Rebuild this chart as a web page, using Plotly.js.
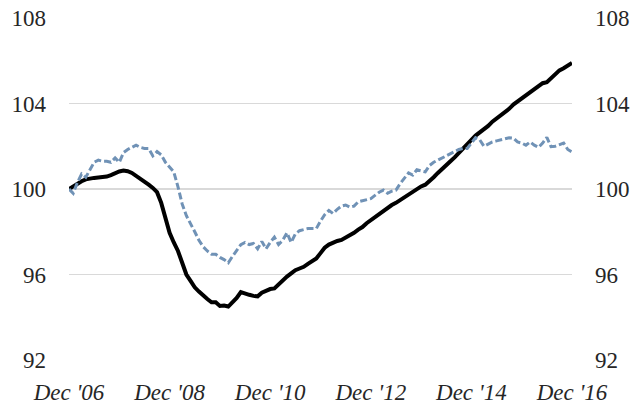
<!DOCTYPE html>
<html>
<head>
<meta charset="utf-8">
<script src="https://cdn.plot.ly/plotly-3.0.1.min.js"></script>
<style>html,body{margin:0;padding:0;background:#fff;}#chart{width:635px;height:406px;}</style>
</head>
<body>
<div id="chart"></div>
<script>
// months since Dec 2006 (0 = Dec '06, 120 = Dec '16)
const months = Array.from({length: 121}, (_, i) => i);

const tickVals = [0, 24, 48, 72, 96, 120];
const tickLabels = ["Dec '06", "Dec '08", "Dec '10", "Dec '12", "Dec '14", "Dec '16"];
const yTicks = [92, 96, 100, 104, 108];

const solidSeries = [
100.0,100.12,100.27,100.36,100.45,100.5,100.52,100.54,100.56,100.58,100.65,100.75,100.82,100.86,100.83,100.75,100.62,100.5,100.35,100.2,100.05,99.85,99.35,98.7,
97.95,97.5,97.1,96.55,96.0,95.7,95.4,95.2,95.0,94.85,94.7,94.7,94.53,94.55,94.5,94.7,94.9,95.18,95.1,95.05,95.0,94.98,95.15,95.25,
95.32,95.35,95.55,95.75,95.9,96.05,96.2,96.28,96.36,96.5,96.65,96.75,97.0,97.25,97.4,97.5,97.57,97.62,97.72,97.85,97.95,98.1,98.22,98.4,
98.55,98.65,98.82,99.0,99.12,99.25,99.35,99.48,99.6,99.75,99.9,100.03,100.12,100.2,100.35,100.55,100.75,100.95,101.1,101.3,101.48,101.7,101.9,102.1,
102.3,102.5,102.65,102.75,102.95,103.15,103.3,103.45,103.55,103.75,103.95,104.1,104.25,104.35,104.5,104.7,104.85,104.95,105.0,105.2,105.4,105.55,105.65,105.75,
105.9];

const dashedSeries = [
100.0,99.8,100.3,100.7,100.55,100.9,101.25,101.35,101.3,101.3,101.25,101.45,101.25,101.7,101.85,101.95,102.05,101.95,101.9,101.9,101.55,101.75,101.6,101.25,
101.05,100.8,100.1,99.3,98.75,98.4,98.0,97.6,97.3,97.1,96.95,96.95,96.8,96.7,96.55,96.85,97.15,97.4,97.5,97.4,97.45,97.2,97.55,97.2,
97.5,97.75,97.4,97.6,97.95,97.5,97.9,98.05,98.1,98.15,98.15,98.15,98.5,98.8,99.0,98.85,99.05,99.2,99.25,99.15,99.2,99.4,99.45,99.5,
99.55,99.7,99.85,99.95,99.8,99.9,99.95,100.25,100.5,100.75,100.65,100.9,100.85,100.8,101.1,101.25,101.35,101.45,101.55,101.65,101.75,101.85,101.9,101.9,
102.15,102.4,102.3,102.0,102.1,102.2,102.25,102.3,102.35,102.4,102.38,102.2,102.15,102.05,102.2,102.05,101.95,102.15,102.42,101.98,102.0,102.06,102.15,101.85,
101.73];

const tickFont = {family: 'Liberation Serif', size: 23, color: '#262626'};

const traces = [
  {x: months, y: dashedSeries, type: 'scatter', mode: 'lines', yaxis: 'y2',
   line: {color: '#7092b6', width: 3, dash: '7px,3px'}, hoverinfo: 'skip'},
  {x: months, y: solidSeries, type: 'scatter', mode: 'lines',
   line: {color: '#000000', width: 4}, hoverinfo: 'skip'}
];

const layout = {
  width: 635, height: 406,
  margin: {l: 69, r: 63, t: 18, b: 46},
  paper_bgcolor: '#ffffff', plot_bgcolor: '#ffffff',
  showlegend: false,
  font: {family: 'Liberation Serif'},
  xaxis: {
    range: [0, 120], tickvals: tickVals,
    ticktext: tickLabels.map(t => '<i>' + t + '</i>'),
    showgrid: false, zeroline: false, showline: false, ticks: '',
    tickfont: Object.assign({}, tickFont, {style: 'italic'}),
    ticklabelstandoff: 16
  },
  yaxis: {
    range: [92, 108], tickvals: yTicks, ticktext: yTicks.map(String),
    showgrid: true, gridcolor: '#d9d9d9', gridwidth: 1.5,
    zeroline: false, showline: false, ticks: '',
    tickfont: tickFont, ticklabelstandoff: 22
  },
  yaxis2: {
    range: [92, 108], tickvals: yTicks, ticktext: yTicks.map(String),
    overlaying: 'y', side: 'right',
    showgrid: false, zeroline: false, showline: false, ticks: '',
    tickfont: tickFont, ticklabelstandoff: 22
  }
};

Plotly.newPlot('chart', traces, layout, {staticPlot: true, displayModeBar: false});
</script>
</body>
</html>
